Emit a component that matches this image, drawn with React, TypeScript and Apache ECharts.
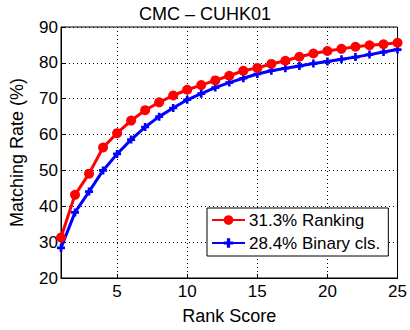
import React, { useEffect, useRef } from "react";
import * as echarts from "echarts";

const ranks = [1,2,3,4,5,6,7,8,9,10,11,12,13,14,15,16,17,18,19,20,21,22,23,24,25];
const ranking = [31.3,43.2,49.1,56.4,60.4,63.9,66.8,69.0,70.9,72.5,73.8,75.1,76.4,77.8,78.6,79.7,80.6,81.7,82.6,83.3,83.9,84.5,84.9,85.2,85.6];
const binary = [28.4,38.3,44.1,50.0,54.6,58.6,62.1,65.0,67.4,69.7,71.4,73.1,74.5,75.7,76.9,77.8,78.5,79.1,79.8,80.4,81.0,81.6,82.3,83.0,83.7];
const xTicks = [5,10,15,20,25];
const seriesNames = ["31.3% Ranking", "28.4% Binary cls."];

const FONT = "Liberation Sans, Arial, Helvetica, sans-serif";

export default function App() {
  const ref = useRef<HTMLDivElement>(null);
  useEffect(() => {
    const chart = echarts.init(ref.current!, null, { renderer: "svg" });
    const grid = { left: 45, right: 10, top: 27, bottom: 38 };
    const splitLine = { show: true, lineStyle: { color: "#000", type: [1, 3], width: 1 } };
    chart.setOption({
      animation: false,
      backgroundColor: "#fff",
      title: {
        text: "CMC \u2013 CUHK01",
        left: "center",
        top: 0,
        textStyle: { fontFamily: FONT, fontSize: 18, fontWeight: "normal", color: "#000" },
      },
      grid: { ...grid, show: true, borderColor: "#000", borderWidth: 1 },
      legend: {
        data: seriesNames,
        orient: "vertical",
        left: 207,
        top: 208,
        backgroundColor: "#fff",
        borderColor: "#000",
        borderWidth: 1,
        borderRadius: 0,
        padding: [3, 8, 4, 4],
        itemGap: 5,
        itemWidth: 33,
        itemHeight: 12,
        textStyle: { fontFamily: FONT, fontSize: 17, lineHeight: 18, color: "#000", padding: [0, 0, 0, -1] },
      },
      xAxis: {
        type: "value",
        min: 1,
        max: 25,
        name: "Rank Score",
        nameLocation: "middle",
        nameGap: 29,
        nameTextStyle: { fontFamily: FONT, fontSize: 18, color: "#000" },
        axisLine: { show: true, lineStyle: { color: "#000" } },
        axisTick: { show: true, inside: true, length: 4, customValues: xTicks, lineStyle: { color: "#000" } },
        axisLabel: { customValues: xTicks, fontFamily: FONT, fontSize: 17, color: "#000", margin: 5 },
        splitLine,
      },
      yAxis: {
        type: "value",
        min: 20,
        max: 90,
        interval: 10,
        name: "Matching Rate (%)",
        nameLocation: "middle",
        nameGap: 35,
        nameTextStyle: { fontFamily: FONT, fontSize: 18, color: "#000" },
        axisLine: { show: true, lineStyle: { color: "#000" } },
        axisTick: { show: true, inside: true, length: 4, lineStyle: { color: "#000" } },
        axisLabel: { fontFamily: FONT, fontSize: 17, color: "#000", margin: 3 },
        splitLine,
      },
      series: [
        {
          name: seriesNames[0],
          type: "line",
          data: ranks.map((r, i) => [r, ranking[i]]),
          symbol: "circle",
          symbolSize: 10,
          lineStyle: { color: "#ff0000", width: 3 },
          itemStyle: { color: "#ff0000" },
          z: 3,
        },
        {
          name: seriesNames[1],
          type: "line",
          data: ranks.map((r, i) => [r, binary[i]]),
          symbol: "path://M2,0H4V2H6V4H4V6H2V4H0V2H2Z",
          symbolSize: 8,
          lineStyle: { color: "#0000ff", width: 3 },
          itemStyle: { color: "#0000ff" },
          z: 2,
        },
      ],
    });
    return () => chart.dispose();
  }, []);
  return <div ref={ref} style={{ width: 410, height: 330, position: "absolute", left: 0, top: 0 }} />;
}
